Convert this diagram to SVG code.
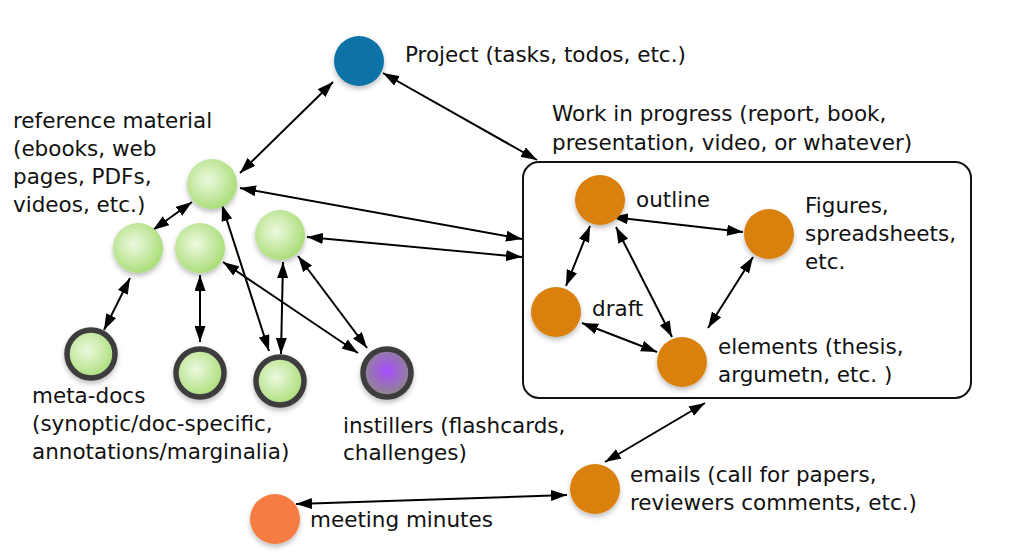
<svg xmlns="http://www.w3.org/2000/svg" width="1012" height="554" viewBox="0 0 1012 554">
<defs>
<radialGradient id="gGreen" cx="0.42" cy="0.42" r="0.6">
<stop offset="0" stop-color="#eef9e0"/>
<stop offset="1" stop-color="#a9dd78"/>
</radialGradient>
<radialGradient id="gPurple" cx="0.5" cy="0.45" r="0.55">
<stop offset="0" stop-color="#a64dff"/>
<stop offset="1" stop-color="#8f8a86"/>
</radialGradient>
<filter id="sh" x="-30%" y="-30%" width="160%" height="170%">
<feDropShadow dx="0" dy="3" stdDeviation="2.5" flood-color="#000" flood-opacity="0.25"/>
</filter>
<marker id="ah" viewBox="0 0 16 11" refX="16" refY="5.5" markerWidth="16" markerHeight="11" markerUnits="userSpaceOnUse" orient="auto-start-reverse">
<path d="M0,0 L16,5.5 L0,11 Z" fill="#000"/>
</marker>
</defs>
<style>
text{font-family:"DejaVu Sans","Liberation Sans",sans-serif;font-size:21.5px;fill:#111}
.c{stroke:#000;stroke-width:2;fill:none;marker-start:url(#ah);marker-end:url(#ah)}
.green{fill:url(#gGreen);filter:url(#sh)}
.ring{fill:url(#gGreen);stroke:#3d3d3d;stroke-width:5.5;filter:url(#sh)}
.orange{fill:#d9800f;filter:url(#sh)}
</style>
<rect width="1012" height="554" fill="#fff"/>

<g id="box">
<rect x="523" y="162" width="448" height="236" rx="16" ry="16" fill="none" stroke="#111" stroke-width="2"/>
<text x="552" y="121">Work in progress (report, book,</text>
<text x="552" y="150">presentation, video, or whatever)</text>
</g>

<g id="connectors">
<line class="c" x1="333" y1="82" x2="240" y2="173"/>
<line class="c" x1="383" y1="73" x2="537" y2="160"/>
<line class="c" x1="192" y1="202" x2="153" y2="230"/>
<line class="c" x1="240" y1="188" x2="522" y2="239"/>
<line class="c" x1="307" y1="237" x2="522" y2="257"/>
<line class="c" x1="130" y1="278" x2="104" y2="330"/>
<line class="c" x1="200" y1="275" x2="200" y2="342"/>
<line class="c" x1="222" y1="205" x2="269" y2="351"/>
<line class="c" x1="283" y1="262" x2="281" y2="354"/>
<line class="c" x1="223" y1="262" x2="358" y2="353"/>
<line class="c" x1="298" y1="256" x2="367" y2="348"/>
<line class="c" x1="612" y1="217" x2="743" y2="232"/>
<line class="c" x1="590" y1="226" x2="566" y2="286"/>
<line class="c" x1="616" y1="227" x2="672" y2="337"/>
<line class="c" x1="753" y1="257" x2="708" y2="328"/>
<line class="c" x1="582" y1="323" x2="657" y2="352"/>
<line class="c" x1="705" y1="403" x2="605" y2="462"/>
<line class="c" x1="296" y1="504" x2="567" y2="495"/>
</g>

<g id="project">
<circle cx="359" cy="61" r="25" fill="#0e73a6" filter="url(#sh)"/>
<text x="405" y="62">Project (tasks, todos, etc.)</text>
</g>

<g id="reference">
<circle class="green" cx="212" cy="184" r="25"/>
<text x="13" y="128">reference material</text>
<text x="13" y="156">(ebooks, web</text>
<text x="13" y="184">pages, PDFs,</text>
<text x="13" y="212">videos, etc.)</text>
</g>
<g id="ref-b"><circle class="green" cx="138" cy="248" r="25"/></g>
<g id="ref-c"><circle class="green" cx="200" cy="248" r="25"/></g>
<g id="ref-d"><circle class="green" cx="280" cy="235" r="25"/></g>

<g id="metadocs">
<circle class="ring" cx="91" cy="354" r="24"/>
<text x="32" y="403">meta-docs</text>
<text x="32" y="431">(synoptic/doc-specific,</text>
<text x="32" y="459">annotations/marginalia)</text>
</g>
<g id="meta-f"><circle class="ring" cx="200" cy="373" r="24"/></g>
<g id="meta-g"><circle class="ring" cx="280" cy="381" r="24"/></g>

<g id="instillers">
<circle cx="387" cy="373" r="24" fill="url(#gPurple)" stroke="#3d3d3d" stroke-width="5.5" filter="url(#sh)"/>
<text x="343" y="433">instillers (flashcards,</text>
<text x="343" y="460">challenges)</text>
</g>

<g id="outline">
<circle class="orange" cx="600" cy="200" r="25"/>
<text x="636" y="207">outline</text>
</g>
<g id="figures">
<circle class="orange" cx="769" cy="234" r="25"/>
<text x="805" y="213">Figures,</text>
<text x="805" y="241">spreadsheets,</text>
<text x="805" y="269">etc.</text>
</g>
<g id="draft">
<circle class="orange" cx="556" cy="312" r="25"/>
<text x="592" y="316">draft</text>
</g>
<g id="elements">
<circle class="orange" cx="682" cy="362" r="25"/>
<text x="718" y="354">elements (thesis,</text>
<text x="718" y="382">argumetn, etc. )</text>
</g>

<g id="emails">
<circle class="orange" cx="595" cy="489" r="25"/>
<text x="630" y="482">emails (call for papers,</text>
<text x="630" y="510">reviewers comments, etc.)</text>
</g>
<g id="meeting">
<circle cx="275" cy="519" r="25" fill="#f57b42" filter="url(#sh)"/>
<text x="310" y="527">meeting minutes</text>
</g>
</svg>
